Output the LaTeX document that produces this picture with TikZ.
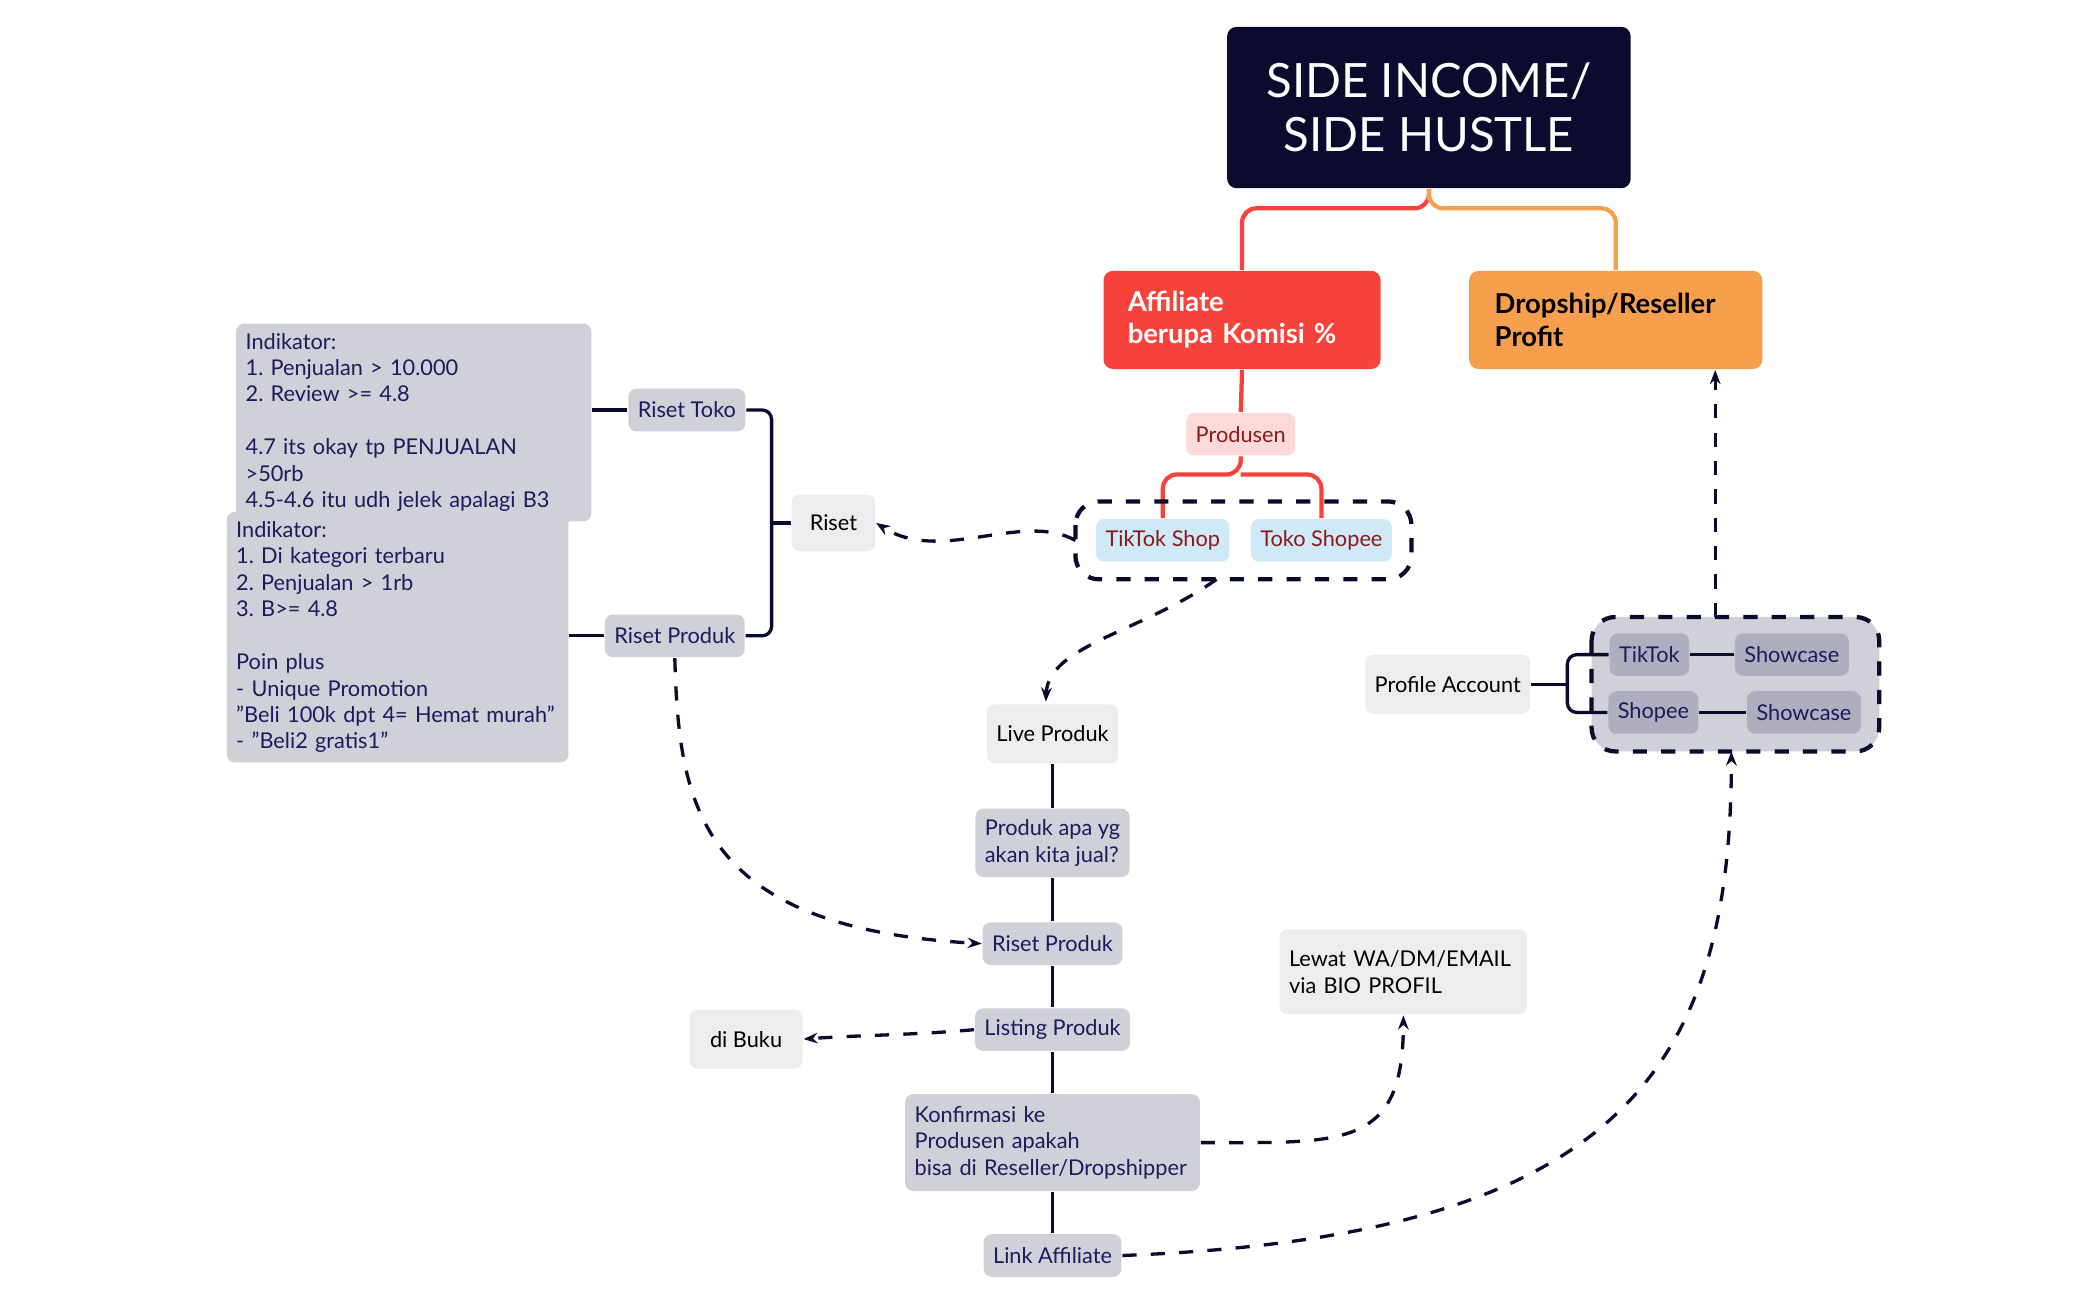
\documentclass[tikz,border=0pt]{standalone}
\usepackage{fontspec}
\setmainfont{Lato}
\usetikzlibrary{arrows.meta,positioning}
\definecolor{navy}{HTML}{0B0B2E}
\definecolor{txtnavy}{HTML}{1B1B5E}
\definecolor{affred}{HTML}{F7433B}
\definecolor{droporg}{HTML}{F6A04D}
\definecolor{lgray}{HTML}{EDEDF0}
\definecolor{mgray}{HTML}{D0D0D8}
\definecolor{dgray}{HTML}{AEAEBE}
\definecolor{pinkbox}{HTML}{FCDADA}
\definecolor{bluebox}{HTML}{CFE9F7}
\definecolor{darkred}{HTML}{8B1A1A}
\tikzset{
  base/.style={rounded corners=1.7pt,inner xsep=2pt,inner ysep=0pt,minimum height=9pt,
    font=\fontsize{4.6}{5.6}\selectfont},
  light/.style={base,fill=lgray,text=black},
  gray/.style={base,fill=mgray,text=txtnavy},
  dark/.style={base,fill=dgray,text=txtnavy},
  note/.style={gray,align=left,anchor=north west,inner sep=2pt},
  link/.style={line width=0.7pt,navy,rounded corners=2pt},
  dlink/.style={link,dashed,-{Stealth[length=3pt]}}
}
\begin{document}
\frenchspacing
\begin{tikzpicture}[x=0.01cm,y=-0.01cm]
\useasboundingbox (0,0) rectangle (1560,967);
% root and branches
\node[fill=navy,text=white,rounded corners=2pt,minimum width=3cm,minimum height=1.2cm,align=center,
  font=\fontsize{10}{11.4}\selectfont] (root) at (1063,80) {SIDE INCOME/\\SIDE HUSTLE};
\node[fill=affred,text=white,rounded corners=2pt,minimum width=2.06cm,minimum height=0.73cm,align=left,
  font=\bfseries\fontsize{5.8}{6.8}\selectfont,text width=1.7cm] (aff) at (924,238) {Affiliate\\berupa Komisi \%};
\node[fill=droporg,text=black,rounded corners=2pt,minimum width=2.18cm,minimum height=0.73cm,align=left,
  font=\bfseries\fontsize{5.8}{6.8}\selectfont,text width=1.8cm] (drop) at (1202,238) {Dropship/Reseller\\Profit};
\draw[line width=0.9pt,affred,rounded corners=3pt] (root.south) |- (1063,155) -| (aff.north);
\draw[line width=0.9pt,droporg,rounded corners=3pt] (root.south) |- (1063,155) -| (drop.north);
% affiliate branch
\node[base,fill=pinkbox,text=darkred] (prod) at (923,323) {Produsen};
\node[base,fill=bluebox,text=darkred] (tts) at (865,402) {TikTok Shop};
\node[base,fill=bluebox,text=darkred] (tks) at (983,402) {Toko Shopee};
\draw[line width=0.9pt,affred] (aff.south) -- (prod.north);
\draw[line width=0.9pt,affred,rounded corners=3pt] (prod.south) -- (923,353) -| (tts.north);
\draw[line width=0.9pt,affred,rounded corners=3pt] (923,353) -| (tks.north);
\draw[line width=0.9pt,navy,dashed,rounded corners=5pt] (800,373) rectangle (1050,431);
\coordinate (shopL) at (800,402);
\coordinate (shopB) at (905,431);
% riset
\node[light,minimum height=12pt,minimum width=0.62cm] (riset) at (620,389) {Riset};
\node[gray] (rtoko) at (511,305) {Riset Toko};
\node[gray] (rprod) at (502,473) {Riset Produk};
\draw[link] (rtoko.east) -| (574,389) |- (rprod.east);
\draw[link] (574,389) -- (riset.west);
\draw[dlink] (shopL) .. controls (760,380) and (700,420) .. (riset.east);
\node[note,text width=2.5cm,minimum height=1.29cm] (ind1) at (175,240) {Indikator:\\1. Penjualan > 10.000\\2. Review >= 4.8\\[5.6pt]4.7 its okay tp PENJUALAN >50rb\\4.5-4.6 itu udh jelek apalagi B3};
\node[note,text width=2.4cm,minimum height=1.86cm] (ind2) at (168,380) {Indikator:\\1. Di kategori terbaru\\2. Penjualan > 1rb\\3. B>= 4.8\\[5.6pt]Poin plus\\- Unique Promotion\\"Beli 100k dpt 4= Hemat murah"\\- "Beli2 gratis1"};
\draw[link] (ind1.east |- rtoko) -- (rtoko.west);
\draw[link] (ind2.east |- rprod) -- (rprod.west);
% main flow
\node[light,minimum height=12.5pt] (live) at (783,546) {Live Produk};
\node[gray,align=left,minimum height=14.5pt] (apa) at (783,627) {Produk apa yg\\akan kita jual?};
\node[gray] (rprod2) at (783,702) {Riset Produk};
\node[gray] (list) at (783,766) {Listing Produk};
\node[gray,align=left,minimum height=20.5pt,text width=2.05cm] (konf) at (783,850) {Konfirmasi ke\\Produsen apakah\\bisa di Reseller/Dropshipper};
\node[gray] (link) at (783,934) {Link Affiliate};
\draw[link] (live) -- (apa) -- (rprod2) -- (list) -- (konf) -- (link);
\draw[dlink] (shopB) .. controls (850,470) and (780,480) .. (778,522);
\draw[dlink] (rprod.south) .. controls (505,600) and (520,690) .. (rprod2.west);
\node[light,minimum height=12.5pt,minimum width=0.84cm] (buku) at (555,773) {di Buku};
\draw[dlink] (list.west) .. controls (680,770) and (640,770) .. (buku.east);
\node[light,align=left,minimum height=18pt,text width=1.7cm] (lewat) at (1044,723) {Lewat WA/DM/EMAIL\\via BIO PROFIL};
\draw[dlink] (konf.east) .. controls (1000,850) and (1044,855) .. (lewat.south);
% dropship branch
\draw[line width=0.9pt,navy,dashed,rounded corners=5pt,fill=mgray] (1184,459) rectangle (1398,559);
\coordinate (accT) at (1276,459);
\coordinate (accB) at (1288,559);
\node[dark] (tt) at (1227,487) {TikTok};
\node[dark] (sc1) at (1333,487) {Showcase};
\node[dark] (sp) at (1230,530) {Shopee};
\node[dark] (sc2) at (1342,530) {Showcase};
\draw[link] (tt) -- (sc1);
\draw[link] (sp) -- (sc2);
\node[light,minimum height=12.5pt] (prof) at (1077,509) {Profile Account};
\draw[link] (prof.east) -- (1166,509);
\draw[link] (tt.west) -| (1166,509) |- (sp.west);
\draw[dlink] (accT) -- (drop.south -| accT);
\draw[dlink] (link.east) .. controls (1200,920) and (1288,800) .. (accB);
\end{tikzpicture}
\end{document}
